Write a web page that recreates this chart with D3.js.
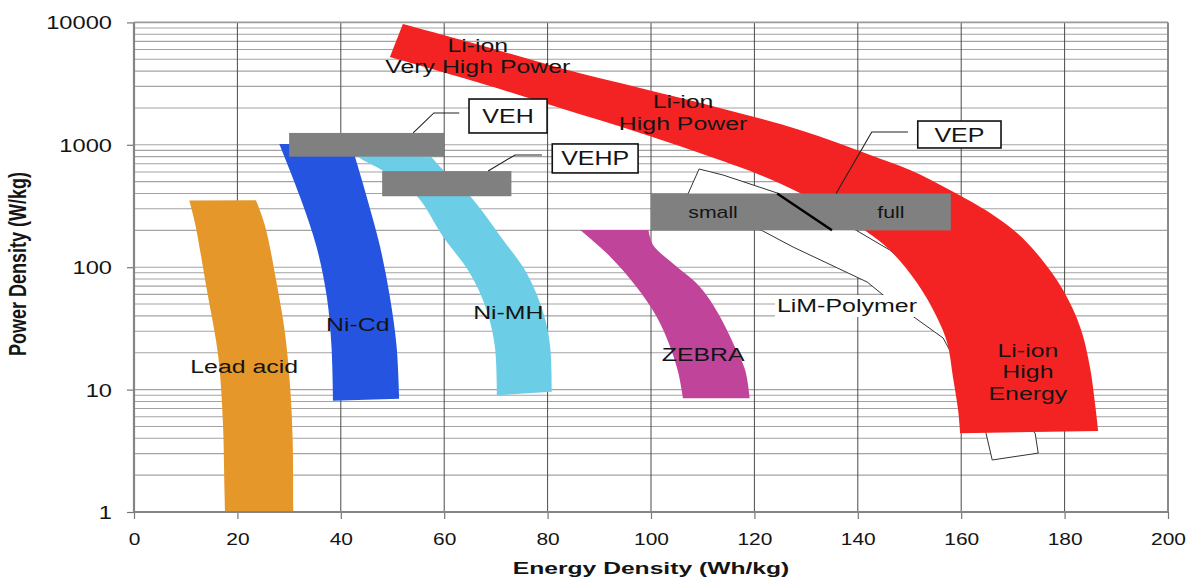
<!DOCTYPE html>
<html>
<head>
<meta charset="utf-8">
<script src="https://cdn.jsdelivr.net/npm/d3@7"></script>
<style>
  html, body { margin: 0; padding: 0; background: #fff; }
  svg { display: block; font-family: "Liberation Sans", Arial, Helvetica, sans-serif; }
</style>
</head>
<body>
<svg id="chart" width="1197" height="579"></svg>
<script>
// ---- axis ticks ----
const energyTicks = [0, 20, 40, 60, 80, 100, 120, 140, 160, 180, 200];
const powerTicks = [1, 10, 100, 1000, 10000];

// ---- technology regions as two edges, top to bottom: [energy Wh/kg, power W/kg] ----
const leadAcidLeft = [[10.7, 350], [11.8, 229], [14.1, 65], [16.3, 18.6], [17.2, 5.3], [17.5, 1.5], [17.6, 1]];
const leadAcidRight = [[23.6, 352], [25.3, 221], [27.6, 74], [29.2, 29], [30.2, 10.5], [30.7, 3.7], [30.8, 1]];
const niCdLeft = [[28.1, 1015], [32.1, 377], [35.3, 147], [37.3, 57], [38.2, 22.4], [38.5, 8.1]];
const niCdRight = [[42.0, 1015], [42.7, 810], [45.0, 377], [47.6, 147], [49.5, 57], [50.8, 22.4], [51.3, 8.4]];
const niMHLeft = [[41.0, 1000], [43.1, 810], [48.2, 611], [54.7, 382], [59.8, 177], [65.0, 89], [68.2, 44.7],
                  [69.8, 22.4], [70.2, 9.0]];
const niMHRight = [[54.9, 1000], [57.3, 810], [59.8, 622], [65.0, 382], [71.4, 167], [76.0, 89], [79.2, 42],
                   [80.5, 22.4], [80.8, 9.6]];
const zebraLeft = [[86.3, 201], [92.1, 122], [97.2, 69], [101.1, 39.4], [103.7, 22.4], [105.3, 13.6], [106.2, 8.5]];
const zebraRight = [[99.5, 201], [100.4, 152], [105.0, 101], [108.8, 74], [111.4, 54], [114.0, 35], [116.2, 22.4],
                    [118.2, 14.5], [119.1, 8.5]];
const liIonLower = [[49.5, 5215], [66.9, 3200], [82.4, 2000], [97.9, 1250], [113.3, 751], [121.1, 567], [128.8, 404],
                    [135.6, 282], [141.8, 194], [146.2, 138], [151.5, 74], [155.3, 39], [157.3, 24], [158.4, 12.7],
                    [159.4, 6.8], [159.8, 4.4]];
const liIonUpper = [[52.0, 9700], [66.9, 6535], [82.4, 4240], [97.9, 2910], [113.3, 2000], [128.8, 1321], [142.4, 826],
                    [150.1, 622], [157.8, 427], [165.6, 277], [170.8, 190], [175.2, 121], [179.7, 65], [183.0, 32.5],
                    [184.9, 15.3], [186.5, 4.6]];
const limPolymer = [[106.2, 322], [109.3, 634], [113.9, 567], [124.4, 404], [139.7, 200], [146.2, 138], [152.0, 86],
                    [159.8, 37], [165.6, 14.5], [169.4, 6.8], [174.3, 4.4], [174.9, 3.03], [166.0, 2.66], [164.8, 4.4],
                    [161.7, 10], [158.8, 17.5], [156.5, 26.4], [151.1, 38.5], [144.9, 59.3], [141.8, 75.7],
                    [127.5, 146], [121.4, 200]];

// ---- vehicle requirement windows: [[E min, P min], [E max, P max]] ----
const vehBox = [[30, 800], [60, 1250]];
const vehpBox = [[48, 380], [73, 610]];
const vepBox = [[100, 200], [158, 400]];
const sizeDivider = [[124.4, 400], [135.0, 200]];

// ---- callouts ----
const vehLabelBox = [[64.8, 1249], [79.9, 2366]];
const vehpLabelBox = [[80.9, 589], [97.5, 1016]];
const vepLabelBox = [[151.6, 942], [167.7, 1564]];
const vehLeader = [[54.0, 1250], [58.0, 1820], [62.9, 1820]];
const vehpLeader = [[68.5, 610], [73.7, 826], [78.9, 826]];
const vepLeader = [[135.8, 400], [142.7, 1273], [149.7, 1273]];
const limLeaderText = "LiM-Polymer";
const limLabelAt = [137.9, 48.2];

const regionLabels = [
  { lines: ["Li-ion", "Very High Power"], at: [66.5, 5315] },
  { lines: ["Li-ion", "High Power"], at: [106.2, 1833] },
  { lines: ["Lead acid"], at: [21.3, 15.3] },
  { lines: ["Ni-Cd"], at: [43.3, 33.7] },
  { lines: ["Ni-MH"], at: [72.4, 42.5] },
  { lines: ["ZEBRA"], at: [110.1, 19.2] },
  { lines: ["Li-ion", "High", "Energy"], at: [172.9, 13.9] }
];

// ---- layout ----
const svg = d3.select("#chart");
const x = d3.scaleLinear().domain([0, 200]).range([134, 1168]);
const y = d3.scaleLog().domain([1, 10000]).range([512, 22.4]);
const TEXT = "#141414";

// grid
const gridPowers = [];
[1, 10, 100, 1000].forEach(dec => { for (let m = 1; m <= 9; m++) gridPowers.push(m * dec); });
gridPowers.push(10000);

const grid = svg.append("g");
grid.selectAll("line.h").data(gridPowers.filter(p => p > 1 && p < 10000)).join("line")
  .attr("x1", x(0)).attr("x2", x(200))
  .attr("y1", d => y(d)).attr("y2", d => y(d))
  .attr("stroke", "#a3a3a3").attr("stroke-width", 1.1);
grid.selectAll("line.v").data(energyTicks.filter(e => e > 0 && e < 200)).join("line")
  .attr("x1", d => x(d)).attr("x2", d => x(d))
  .attr("y1", y(10000)).attr("y2", y(1))
  .attr("stroke", "#4a4a4a").attr("stroke-width", 1);

// frame
const frame = svg.append("g").attr("fill", "none");
frame.append("line").attr("x1", x(0)).attr("x2", x(200)).attr("y1", y(10000)).attr("y2", y(10000))
  .attr("stroke", "#9a9a9a").attr("stroke-width", 1.6);
frame.append("line").attr("x1", x(200)).attr("x2", x(200)).attr("y1", y(10000)).attr("y2", y(1))
  .attr("stroke", "#8a8a8a").attr("stroke-width", 2);

// regions: each edge is a smooth curve, joined by straight top and bottom cuts
const outline = d3.line().x(d => x(d[0])).y(d => y(d[1]));
const smooth = d3.line().x(d => x(d[0])).y(d => y(d[1])).curve(d3.curveCatmullRom.alpha(0.5));
function bandPath(edgeA, edgeB) {
  const a = smooth(edgeA);
  const b = smooth(edgeB.slice().reverse()).replace(/^M/, "L");
  return a + b + "Z";
}
const shapes = svg.append("g");
function band(edgeA, edgeB, fill) {
  return shapes.append("path").attr("d", bandPath(edgeA, edgeB)).attr("fill", fill);
}
band(leadAcidRight, leadAcidLeft, "#e5972a");
band(niCdRight, niCdLeft, "#2555e0");
band(niMHRight, niMHLeft, "#6ccde6");
band(zebraRight, zebraLeft, "#c0449a");
shapes.append("path").attr("d", outline(limPolymer) + "Z")
  .attr("fill", "#ffffff").attr("stroke", "#333").attr("stroke-width", 1);
band(liIonUpper, liIonLower, "#f42323");

// requirement windows
function box(g, b) {
  return g.append("rect")
    .attr("x", x(b[0][0])).attr("y", y(b[1][1]))
    .attr("width", x(b[1][0]) - x(b[0][0])).attr("height", y(b[0][1]) - y(b[1][1]));
}
const windows = svg.append("g").attr("fill", "#808080");
[vehBox, vehpBox, vepBox].forEach(b => box(windows, b));

// leaders
const leaders = svg.append("g").attr("fill", "none").attr("stroke", "#222").attr("stroke-width", 1.1);
[vehLeader, vehpLeader, vepLeader].forEach(l => leaders.append("path").attr("d", outline(l)));
svg.append("path").attr("d", outline(sizeDivider)).attr("stroke", "#000").attr("stroke-width", 2.4);

// text helper: horizontally widened glyphs
function label(g, str, px, py, size, k, opts = {}) {
  return g.append("text")
    .attr("transform", `translate(${px},${py}) scale(${k},1)`)
    .attr("text-anchor", opts.anchor || "middle")
    .attr("dy", "0.35em")
    .attr("font-size", size)
    .attr("font-weight", opts.weight || "normal")
    .attr("fill", TEXT)
    .text(str);
}

// callout boxes
const callouts = svg.append("g");
[[vehLabelBox, "VEH"], [vehpLabelBox, "VEHP"], [vepLabelBox, "VEP"]].forEach(([b, t]) => {
  box(callouts, b).attr("fill", "#fff").attr("stroke", "#111").attr("stroke-width", 1.6);
  label(callouts, t, (x(b[0][0]) + x(b[1][0])) / 2, (y(b[0][1]) + y(b[1][1])) / 2, 20, 1.25);
});

// window texts
const wlab = svg.append("g");
label(wlab, "small", x(112), y(284), 17, 1.25);
label(wlab, "full", x(146.4), y(284), 17, 1.25);

// LiM-Polymer label on white ground
const limText = label(wlab, limLeaderText, x(limLabelAt[0]), y(limLabelAt[1]), 18.5, 1.35);
const bb = limText.node().getBBox();
const lw = bb.width * 1.35;
wlab.insert("rect", "text")
  .attr("x", x(limLabelAt[0]) - lw / 2 - 2).attr("y", y(limLabelAt[1]) - 11)
  .attr("width", lw + 4).attr("height", 22).attr("fill", "#fff");

// region labels
const rl = svg.append("g");
regionLabels.forEach(r => {
  const n = r.lines.length;
  r.lines.forEach((t, i) => {
    label(rl, t, x(r.at[0]), y(r.at[1]) + (i - (n - 1) / 2) * 21.5, 18, 1.38);
  });
});

// axes
const yAxis = svg.append("g").attr("transform", `translate(${x(0)},0)`)
  .call(d3.axisLeft(y).tickValues(powerTicks).tickFormat(d3.format("d")).tickSize(7).tickPadding(0));
yAxis.select(".domain").remove();
yAxis.selectAll(".tick line").attr("stroke", "#777").attr("stroke-width", 1.2);
yAxis.selectAll(".tick text")
  .attr("x", null).attr("dy", "0.35em")
  .attr("transform", "translate(-22,0) scale(1.28,1)")
  .attr("font-size", 18.5).attr("font-family", null).attr("fill", TEXT);

const xAxis = svg.append("g").attr("transform", `translate(0,${y(1)})`)
  .call(d3.axisBottom(x).tickValues(energyTicks).tickSize(7).tickPadding(0));
xAxis.select(".domain").remove();
xAxis.selectAll(".tick line").attr("stroke", "#777").attr("stroke-width", 1.2);
xAxis.selectAll(".tick text")
  .attr("y", null).attr("dy", "0.35em")
  .attr("transform", "translate(0,27) scale(1.27,1)")
  .attr("font-size", 16.5).attr("font-family", null).attr("fill", TEXT);

// axis lines
frame.raise();
svg.append("line").attr("x1", x(0)).attr("x2", x(0)).attr("y1", y(10000)).attr("y2", y(1))
  .attr("stroke", "#858585").attr("stroke-width", 2.2);
svg.append("line").attr("x1", x(0)).attr("x2", x(200)).attr("y1", y(1)).attr("y2", y(1))
  .attr("stroke", "#858585").attr("stroke-width", 2.2);

// axis titles
label(svg, "Energy Density (Wh/kg)", (x(0) + x(200)) / 2, 568, 17, 1.45, { weight: "bold" });
svg.append("text")
  .attr("transform", "translate(18,264) scale(1.3,1) rotate(-90)")
  .attr("text-anchor", "middle").attr("dy", "0.35em")
  .attr("font-size", 18).attr("font-weight", "bold").attr("fill", TEXT)
  .text("Power Density (W/kg)");
</script>
</body>
</html>
